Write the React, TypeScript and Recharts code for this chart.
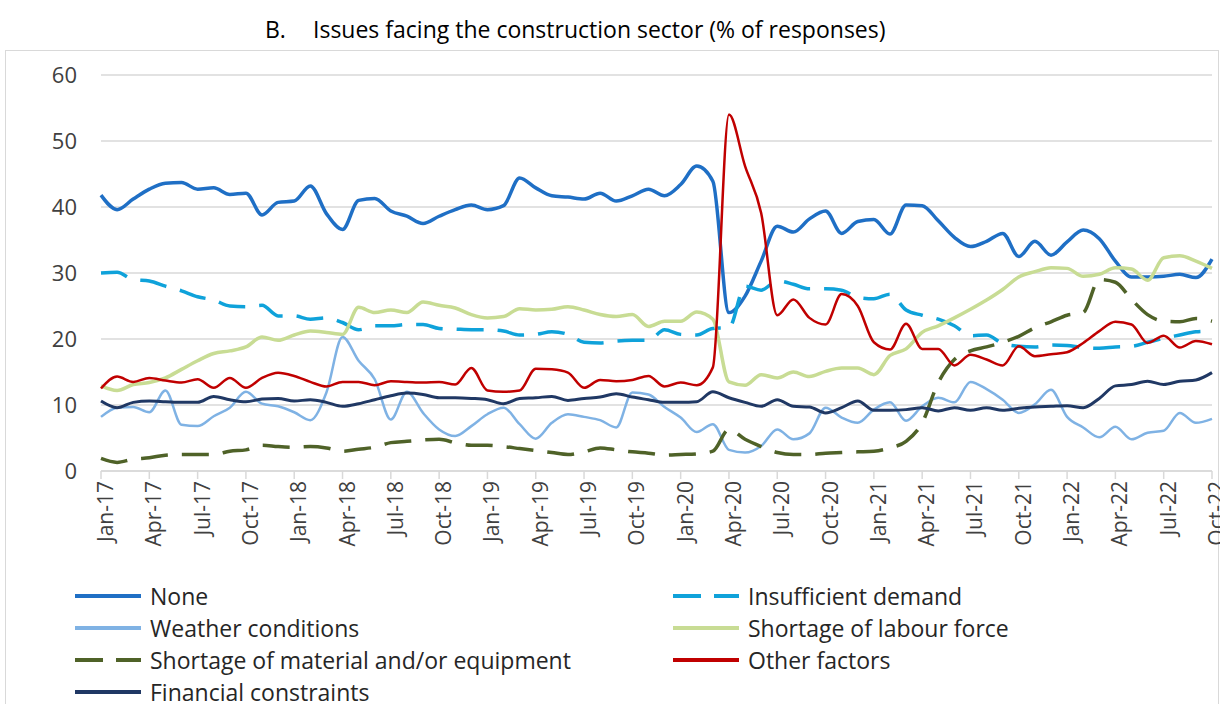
import React from 'react';
import { LineChart, Line, XAxis, YAxis, CartesianGrid, Legend } from 'recharts';

const MONTHS = ['Jan', 'Feb', 'Mar', 'Apr', 'May', 'Jun', 'Jul', 'Aug', 'Sep', 'Oct', 'Nov', 'Dec'];
const YEARS = ['17', '18', '19', '20', '21', '22'];
const MONTH_COUNT = 70; // Jan-17 .. Oct-22
const categories: string[] = [];
for (const y of YEARS) for (const m of MONTHS) if (categories.length < MONTH_COUNT) categories.push(`${m}-${y}`);

const yTicks = [0, 10, 20, 30, 40, 50, 60];

const none = [
  41.8, 39.6, 41.2, 42.7, 43.6, 43.7, 42.7, 42.9, 41.9, 42.1, 38.8, 40.7,
  40.9, 43.2, 39.0, 36.6, 41.0, 41.3, 39.4, 38.6, 37.5, 38.6, 39.6, 40.3,
  39.6, 40.2, 44.4, 42.9, 41.7, 41.5, 41.2, 42.1, 40.9, 41.7, 42.7, 41.7,
  43.4, 46.2, 43.9, 24.0, 26.5, 31.8, 37.1, 36.2, 38.2, 39.4, 36.0, 37.8,
  38.1, 35.9, 40.3, 40.2, 37.9, 35.4, 34.0, 34.8, 36.0, 32.5, 34.8, 32.7,
  34.7, 36.5, 35.2, 31.8, 29.4, 29.4, 29.5, 29.8, 29.3, 32.1,
];
const insufficientDemand = [
  30.0, 30.1, 29.0, 28.8, 28.0, 27.3, 26.4, 25.9, 25.0, 24.9, 25.1, 23.5,
  23.5, 23.0, 23.2, 22.5, 21.4, 22.0, 22.0, 22.2, 22.2, 21.6, 21.5, 21.4,
  21.4, 21.2, 20.6, 20.7, 21.1, 20.7, 19.5, 19.4, 19.7, 19.8, 19.8, 21.4,
  20.7, 20.6, 21.6, 21.7, 28.0, 27.4, 28.8, 28.3, 27.6, 27.6, 27.4, 26.3,
  26.1, 26.8, 24.4, 23.6, 23.0, 22.0, 20.5, 20.6, 19.3, 18.9, 18.8, 19.1,
  19.0, 18.7, 18.6, 18.8, 18.9, 19.5, 20.1, 20.6, 21.1, 21.2,
];
const weatherConditions = [
  8.2, 9.6, 9.7, 8.9, 12.2, 7.0, 6.8, 8.3, 9.6, 12.0, 10.2, 9.8,
  8.9, 7.7, 11.9, 20.3, 16.7, 13.9, 7.8, 12.0, 8.8, 6.3, 5.3, 6.8,
  8.6, 9.6, 7.1, 4.9, 7.3, 8.6, 8.2, 7.7, 6.6, 11.9, 11.6, 9.7,
  8.1, 5.9, 7.1, 3.2, 2.8, 3.8, 6.3, 4.8, 5.7, 9.6, 8.1, 7.3,
  9.3, 10.4, 7.6, 9.8, 11.1, 10.4, 13.5, 12.4, 10.8, 8.8, 10.1, 12.3,
  8.2, 6.6, 5.1, 6.7, 4.8, 5.8, 6.1, 8.8, 7.3, 7.9,
];
const labourShortage = [
  12.9, 12.2, 13.1, 13.4, 14.1, 15.4, 16.7, 17.8, 18.2, 18.8, 20.3, 19.8,
  20.6, 21.2, 21.0, 20.7, 24.8, 24.0, 24.4, 24.0, 25.6, 25.1, 24.7, 23.7,
  23.2, 23.4, 24.6, 24.4, 24.5, 24.9, 24.4, 23.7, 23.4, 23.7, 21.9, 22.7,
  22.7, 24.1, 23.0, 13.5, 13.0, 14.6, 14.1, 15.0, 14.3, 15.1, 15.6, 15.6,
  14.6, 17.5, 18.5, 21.0, 22.0, 23.2, 24.5, 25.9, 27.5, 29.4, 30.2, 30.8,
  30.7, 29.5, 29.8, 30.8, 30.6, 28.9, 32.3, 32.6, 31.8, 30.7,
];
const materialShortage = [
  1.9, 1.3, 1.8, 2.0, 2.4, 2.5, 2.5, 2.5, 3.0, 3.2, 3.9, 3.7,
  3.6, 3.7, 3.5, 3.0, 3.3, 3.6, 4.3, 4.5, 4.7, 4.8, 4.3, 3.9,
  3.9, 3.7, 3.4, 3.1, 2.8, 2.5, 2.9, 3.5, 3.2, 2.9, 2.7, 2.4,
  2.5, 2.6, 3.0, 6.3, 4.8, 3.7, 2.8, 2.5, 2.5, 2.7, 2.8, 2.9,
  3.0, 3.5, 4.5, 7.3, 13.4, 16.9, 18.2, 18.8, 19.5, 20.4, 21.7, 22.6,
  23.6, 24.0, 29.0, 28.6, 26.0, 23.7, 22.7, 22.6, 23.1, 22.7,
];
const otherFactors = [
  12.5, 14.3, 13.5, 14.1, 13.7, 13.4, 13.9, 12.6, 14.1, 12.6, 14.1, 14.9,
  14.4, 13.5, 12.8, 13.5, 13.5, 13.0, 13.6, 13.5, 13.4, 13.5, 13.1, 15.6,
  12.2, 12.0, 12.2, 15.5, 15.4, 14.9, 12.6, 13.8, 13.6, 13.8, 14.4, 12.8,
  13.4, 13.0, 15.7, 54.0, 46.2, 39.1, 23.6, 26.0, 23.2, 22.2, 26.8, 25.0,
  19.5, 18.4, 22.3, 18.5, 18.5, 16.0, 17.6, 16.9, 16.0, 18.9, 17.4, 17.7,
  18.0, 19.4, 21.2, 22.6, 22.2, 19.4, 20.5, 18.7, 19.7, 19.2,
];
const financialConstraints = [
  10.6, 9.6, 10.4, 10.6, 10.5, 10.4, 10.4, 11.3, 10.8, 10.5, 10.9, 11.0,
  10.6, 10.8, 10.4, 9.8, 10.2, 10.8, 11.4, 11.8, 11.6, 11.1, 11.1, 11.0,
  10.8, 10.2, 11.0, 11.1, 11.3, 10.7, 11.0, 11.2, 11.7, 11.2, 10.8, 10.4,
  10.4, 10.5, 12.0, 11.1, 10.4, 9.8, 10.8, 9.8, 9.7, 8.8, 9.6, 10.6,
  9.2, 9.2, 9.3, 9.6, 9.1, 9.6, 9.2, 9.6, 9.2, 9.5, 9.7, 9.8,
  9.9, 9.6, 11.0, 12.9, 13.1, 13.6, 13.1, 13.6, 13.8, 14.9,
];

const seriesNames = [
  'None',
  'Insufficient demand',
  'Weather conditions',
  'Shortage of labour force',
  'Shortage of material and/or equipment',
  'Other factors',
  'Financial constraints',
];
const seriesValues = [
  none, insufficientDemand, weatherConditions, labourShortage,
  materialShortage, otherFactors, financialConstraints,
];
const seriesColors = ['#1f6fc5', '#0fa2da', '#7fb2e4', '#c8dc94', '#4f6228', '#c00000', '#203864'];
const seriesDash = ['', '27 14', '', '', '27 14', '', ''];
const seriesWidth = [3.5, 3.5, 2.5, 3.5, 3.5, 2.5, 3];

const keys = ['s0', 's1', 's2', 's3', 's4', 's5', 's6'];
const data = categories.map((c, i) => {
  const row: Record<string, any> = { month: c };
  seriesValues.forEach((arr, k) => { row[keys[k]] = arr[i]; });
  return row;
});

const FONT = '"Open Sans", "DejaVu Sans", sans-serif';

const XTick = (props: any) => {
  const { x, y, payload } = props;
  return (
    <g transform={`translate(${x},${y})`}>
      <text transform="rotate(-90)" x={0} y={0} dy={12} textAnchor="end" fontSize={21}
        fill="#404040" fontFamily={FONT}>{payload.value}</text>
    </g>
  );
};

const LegendContent = () => (
  <div style={{ position: 'relative', width: 1220, height: 124, fontFamily: FONT }}>
    {seriesNames.map((name, k) => {
      const col = k % 2;
      const row = Math.floor(k / 2);
      return (
        <div key={name} style={{ position: 'absolute', left: col === 0 ? 74 : 672, top: row * 32,
          height: 32, display: 'flex', alignItems: 'center', whiteSpace: 'nowrap' }}>
          <svg width={68} height={10} style={{ display: 'block' }}>
            <line x1={1} y1={5} x2={67} y2={5} stroke={seriesColors[k]} strokeWidth={4}
              strokeDasharray={seriesDash[k] ? '28 13' : undefined} />
          </svg>
          <span style={{ marginLeft: 8, fontSize: 23, color: '#262626', lineHeight: '32px' }}>{name}</span>
        </div>
      );
    })}
  </div>
);

export default function App() {
  return (
    <div style={{ position: 'absolute', left: 0, top: 0, width: 1220, height: 704, background: '#fff', overflow: 'hidden', fontFamily: FONT }}>
      <div style={{ position: 'absolute', left: 5, top: 50, width: 1212, height: 700, border: '1.5px solid #d9d9d9' }} />
      <div style={{ position: 'absolute', left: 265, top: 13, fontSize: 23, color: '#000', whiteSpace: 'nowrap' }}>B.</div>
      <div style={{ position: 'absolute', left: 313, top: 13, fontSize: 23, color: '#000', whiteSpace: 'nowrap' }}>
        Issues facing the construction sector (% of responses)
      </div>
      <div style={{ position: 'absolute', left: 0, top: 0 }}>
        <LineChart width={1220} height={704} data={data} margin={{ top: 75, right: 8, bottom: 153, left: 41 }}>
          <CartesianGrid vertical={false} stroke="#d9d9d9" strokeWidth={1.5} />
          <XAxis dataKey="month" interval={2} tick={<XTick />} height={80} tickSize={8} tickMargin={2}
            axisLine={{ stroke: '#d9d9d9', strokeWidth: 1.5 }} tickLine={{ stroke: '#d9d9d9', strokeWidth: 1.5 }} />
          <YAxis domain={[0, 60]} ticks={yTicks} width={60} axisLine={false} tickLine={false}
            tickSize={0} tickMargin={24} tick={{ fontSize: 22, fill: '#404040', fontFamily: FONT }} />
          {keys.map((k, i) => (
            <Line key={k} dataKey={k} name={seriesNames[i]} type="monotone" stroke={seriesColors[i]}
              strokeWidth={seriesWidth[i]} strokeDasharray={seriesDash[i] || undefined}
              dot={false} activeDot={false} isAnimationActive={false} />
          ))}
          <Legend layout="vertical" align="center" verticalAlign="middle" content={<LegendContent />}
            wrapperStyle={{ left: 0, top: 580, width: 1220, height: 124 }} />
        </LineChart>
      </div>
    </div>
  );
}
